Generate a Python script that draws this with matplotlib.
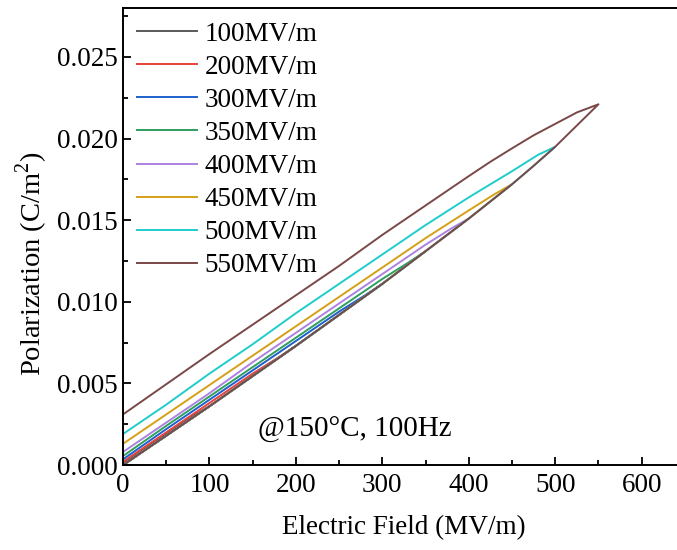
import matplotlib.pyplot as plt
from matplotlib.ticker import MultipleLocator

plt.rcParams['font.family'] = ['Liberation Serif', 'DejaVu Serif']
plt.rcParams['mathtext.fontset'] = 'custom'
plt.rcParams['mathtext.rm'] = 'Liberation Serif'

# Нижняя ветвь петли (зарядка), общая для всех полей
lower_E = [0, 50, 100, 150, 200, 250, 300, 350, 375, 400, 425, 450, 475, 500, 525, 550]
lower_P = [0.0, 0.0018, 0.0036, 0.00545, 0.0073, 0.0092, 0.0111, 0.0131, 0.0141,
           0.0151, 0.01615, 0.0172, 0.01833, 0.0195, 0.0208, 0.0221]

# Верхние ветви (разрядка), от Emax к нулю
labels = ['100MV/m', '200MV/m', '300MV/m', '350MV/m',
          '400MV/m', '450MV/m', '500MV/m', '550MV/m']
e_max = [100, 200, 300, 350, 400, 450, 500, 550]

up_E_100 = [100, 80, 50, 0]
up_P_100 = [0.0036, 0.0030, 0.0019, 0.0001]
up_E_200 = [200, 180, 150, 100, 50, 0]
up_P_200 = [0.0073, 0.0066, 0.0056, 0.0038, 0.0020, 0.0002]
up_E_300 = [300, 280, 250, 200, 150, 100, 50, 0]
up_P_300 = [0.0111, 0.0104, 0.0094, 0.0076, 0.0058, 0.0040, 0.0022, 0.00035]
up_E_350 = [350, 330, 300, 250, 200, 150, 100, 50, 0]
up_P_350 = [0.0131, 0.0124, 0.0114, 0.0096, 0.0078, 0.0060, 0.0042, 0.0024, 0.00055]
up_E_400 = [400, 380, 350, 300, 250, 200, 150, 100, 50, 0]
up_P_400 = [0.0151, 0.0145, 0.0135, 0.0117, 0.0099, 0.0081, 0.0063, 0.0044, 0.0026, 0.0008]
up_E_450 = [450, 430, 400, 350, 300, 250, 200, 150, 100, 50, 0]
up_P_450 = [0.0172, 0.0166, 0.0156, 0.0139, 0.0121, 0.0103, 0.0085, 0.0067, 0.0049, 0.0031, 0.0013]
up_E_500 = [500, 480, 450, 400, 350, 300, 250, 200, 150, 100, 50, 0]
up_P_500 = [0.0196, 0.0190, 0.0180, 0.0164, 0.0147, 0.0129, 0.0111, 0.0093, 0.0074, 0.0056, 0.0037, 0.0019]
up_E_550 = [550, 540, 525, 500, 475, 450, 425, 400, 350, 300, 250, 200, 150, 100, 50, 0]
up_P_550 = [0.0221, 0.0219, 0.0216, 0.0209, 0.0202, 0.0194, 0.01858, 0.0177, 0.0159, 0.0141,
            0.0122, 0.0104, 0.0086, 0.0068, 0.00495, 0.0031]

upper = [(up_E_100, up_P_100), (up_E_200, up_P_200), (up_E_300, up_P_300),
         (up_E_350, up_P_350), (up_E_400, up_P_400), (up_E_450, up_P_450),
         (up_E_500, up_P_500), (up_E_550, up_P_550)]

colors = ['#5a5a5a', '#e8403c', '#1f5fcc', '#2e9e5e', '#ad82e0',
          '#d4a017', '#1fcccc', '#7a4848']

fig = plt.figure(figsize=(6.77, 5.5), dpi=100)
ax = fig.add_axes([0.1817, 0.1545, 0.83, 0.831])

for j in range(len(labels)):
    # нижняя ветвь до Emax
    lo_E = [e for e in lower_E if e <= e_max[j]]
    lo_P = lower_P[:len(lo_E)]
    E = lo_E + upper[j][0][1:]
    P = lo_P + upper[j][1][1:]
    ax.plot(E, P, '-', color=colors[j], lw=1.4, label=labels[j])

ax.set_xlim(0, 650)
ax.set_ylim(0, 0.028)
ax.xaxis.set_major_locator(MultipleLocator(100))
ax.xaxis.set_minor_locator(MultipleLocator(50))
ax.yaxis.set_major_locator(MultipleLocator(0.005))
ax.yaxis.set_minor_locator(MultipleLocator(0.0025))
ax.yaxis.set_major_formatter(plt.FormatStrFormatter('%.3f'))
ax.tick_params(which='both', direction='in', labelsize=19.5, width=1.3)
ax.tick_params(which='major', length=6)
ax.tick_params(which='minor', length=3.5)
ax.tick_params(axis='x', pad=6)
for s in ax.spines.values():
    s.set_linewidth(1.4)

ax.set_xlabel('Electric Field (MV/m)', fontsize=19.5, labelpad=12)
ax.set_ylabel('Polarization (C/m$^2$)', fontsize=20.5)
ax.yaxis.set_label_coords(-0.13, 0.44)

ax.text(156, 0.00215, '@150°C, 100Hz', fontsize=21, va='center')

ax.legend(loc='upper left', frameon=False, fontsize=19.5, handlelength=2.25,
          handletextpad=0.25, labelspacing=0.3, borderaxespad=0.1,
          bbox_to_anchor=(0.0, 1.0))

fig.savefig('out.png', dpi=100)
